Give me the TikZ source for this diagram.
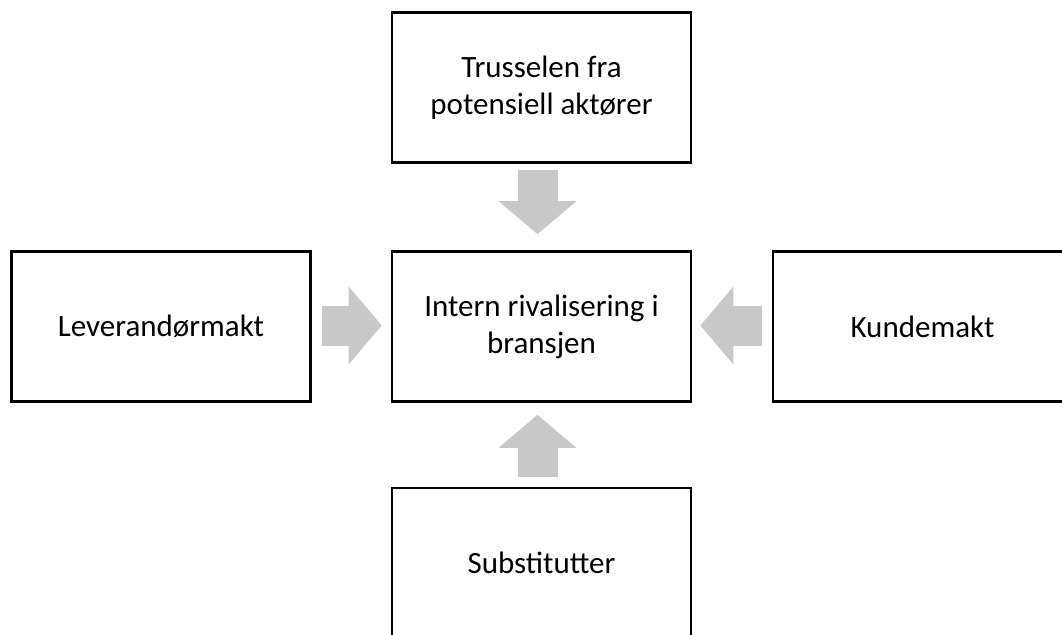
\documentclass[tikz,border=0pt]{standalone}
\usepackage{fontspec}
\setmainfont{Carlito}
\usetikzlibrary{arrows.meta}
\definecolor{arrowgray}{HTML}{C8C8C8}
\begin{document}
\begin{tikzpicture}[x=1pt,y=-1pt,
  force/.style={draw=black, line width=2.8pt, fill=white,
    minimum width=299pt, minimum height=150pt, inner sep=0pt,
    align=center, font=\fontsize{31}{37}\selectfont},
  push/.style={draw=arrowgray, line width=40pt,
    -{Triangle[width=78pt,length=33pt,line width=0pt]}}]
  \useasboundingbox (0,0) rectangle (1062,634);
  \clip (0,0) rectangle (1062,634);

  % the five forces
  \node[force] (mid)    at (541.5,326.5) {Intern rivalisering i\\bransjen};
  \node[force] (entry)  at (541.5,87.5)  {Trusselen fra\\potensiell aktører};
  \node[force] (supply) at (161,326.5)   {Leverandørmakt};
  \node[force] (buyer)  at (922.5,326.5) {Kundemakt};
  \node[force] (subst)  at (541.5,563)   {Substitutter};

  % block arrows pointing at the rivalry box
  \draw[push] ([xshift=-4pt,yshift=-6pt]entry.south) -- ([xshift=-4pt,yshift=16pt]mid.north);
  \draw[push] ([xshift=-4pt,yshift=10pt]subst.north) -- ([xshift=-4pt,yshift=-12pt]mid.south);
  \draw[push] ([xshift=10pt,yshift=1pt]supply.east) -- ([xshift=-9pt,yshift=1pt]mid.west);
  \draw[push] ([xshift=-10pt,yshift=1pt]buyer.west) -- ([xshift=8pt,yshift=1pt]mid.east);
\end{tikzpicture}
\end{document}
